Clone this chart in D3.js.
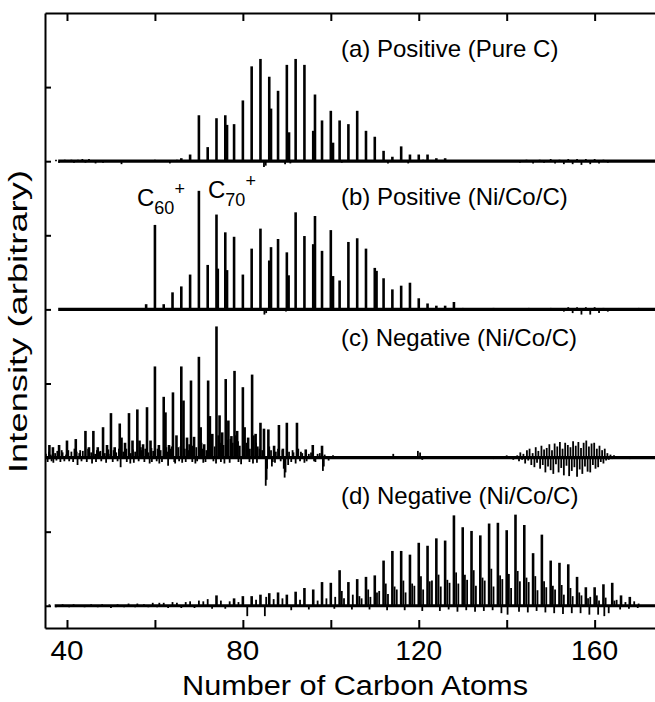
<!DOCTYPE html>
<html>
<head>
<meta charset="utf-8">
<script src="https://d3js.org/d3.v7.min.js"></script>
<style>
  body { margin: 0; background: #fff; }
  text { font-family: "Liberation Sans", Arial, sans-serif; fill: #000; }
</style>
</head>
<body>
<script>
// panel order: a, b, c, d  (vertical offset of each baseline in axis units)
const panelOffsets = [6, 4, 2, 0];
const panelLabels = ["(a) Positive (Pure C)", "(b) Positive (Ni/Co/C)", "(c) Negative (Ni/Co/C)", "(d) Negative (Ni/Co/C)"];
const traceStart = [38, 38, 35, 37.2];
const xTicks = [40, 60, 80, 100, 120, 140, 160];
const xLabels = [40, 80, 120, 160];
const yTicks = [0, 1, 2, 3, 4, 5, 6, 7];

// [carbon atoms, intensity]
const peaksA = [[66,0.04],[68,0.09],[70,0.62],[72,0.19],[74,0.58],[76,0.62],[78,0.50],[80,0.82],[82,1.28],[84,1.38],
  [86,1.14],[88,0.95],[90,1.30],[92,1.38],[94,1.30],[96.4,0.90],[98,0.55],[100,0.68],[102,0.55],[104,0.50],[106,0.68],
  [108,0.41],[110,0.33],[112,0.14],[114,0.06],[116,0.20],[118,0.09],[120,0.09],[122,0.09],[124,0.04],[126,0.04]];
const shouldersA = [[76.4,0.49],[86.4,0.71],[90.5,0.39],[96,0.41],[100.5,0.25]];
const noiseA = [[37.5,0.02],[38.2,-0.02],[39.5,0.02],[41,0.02],[41.6,-0.02],[42.5,0.02],[43.5,0.03],[44.2,-0.02],[45,0.03],
  [46.5,-0.03],[48.2,-0.02],[51,0.01],[52.4,-0.04],[58,0.01],[60,0.02],[63.4,-0.03],[65,0.02],[84.8,-0.08],[85.2,-0.06],
  [89.6,-0.04],[90.8,-0.03],[102.5,-0.02],[113,-0.03],[117.6,-0.03],[119,0.01],[121,0.02],[143,-0.02],[144.5,0.02],
  [146,-0.03],[147.5,0.02],[148.5,-0.02],[150,0.03],[151,-0.03],[152,0.02],[153,-0.04],[154,0.03],[155,-0.04],[156,0.03],
  [157,-0.05],[158,0.03],[159,-0.04],[160,0.03],[161,-0.03],[162,0.02],[163,-0.02]];

const peaksB = [[58,0.07],[60,1.14],[62,0.07],[64,0.23],[66,0.31],[68,0.47],[70,1.60],[72,0.60],[74,1.28],[76,1.04],[78,0.98],
  [80,0.47],[82,0.82],[84,1.09],[86,0.66],[88,0.95],[90,0.77],[92,1.31],[94,0.99],[96.4,1.26],[98,0.79],[100,1.07],
  [102,0.39],[104,0.91],[106,0.96],[108,0.82],[110,0.56],[112,0.42],[114,0.27],[116,0.32],[118,0.36],[120,0.15],
  [122,0.08],[124,0.05],[126,0.05],[128,0.10]];
const shouldersB = [[74.3,0.55],[76.4,0.53],[86.4,0.84],[90.4,0.46],[96,0.88],[100.5,0.45],[110.4,0.52]];
const noiseB = [[44,0.01],[50,0.01],[55,0.02],[84.9,-0.07],[85.3,-0.05],[89.8,-0.03],[96.8,-0.02],[130,0.02],[133,0.02],
  [137,0.02],[141,0.02],[145,0.02],[150,0.02],[153,-0.03],[154,0.03],[155,-0.05],[156,0.03],[157,-0.07],[158,0.03],
  [159,-0.07],[160,0.03],[161,-0.05],[162,0.02],[163,-0.03],[166,0.02],[170,0.02]];

const peaksC = [[36,0.17],[36.8,0.14],[38.2,0.17],[40,0.23],[42,0.25],[44.2,0.36],[45,0.14],[46,0.36],[47,0.14],[48.2,0.41],
  [49.1,0.17],[50,0.60],[50.85,0.14],[52,0.46],[52.4,0.27],[53.2,0.20],[54.1,0.60],[54.9,0.23],[56,0.65],[56.5,0.23],
  [57.3,0.18],[58.2,0.68],[59,0.23],[60,1.23],[60.9,0.17],[62,0.82],[62.4,0.61],[63.2,0.17],[64.1,0.88],[64.9,0.30],
  [66,1.23],[66.5,0.77],[67.3,0.27],[68.2,1.04],[68.9,0.28],[70,1.36],[70.4,0.41],[71.2,0.18],[72.1,1.04],[72.5,0.56],
  [73.05,0.32],[74,1.77],[74.7,0.57],[75.3,0.34],[76.1,1.06],[76.7,0.50],[77.4,0.29],[78.1,1.17],[78.7,0.36],[80,0.95],
  [80.4,0.41],[81.2,0.27],[82.1,1.12],[82.9,0.32],[84,0.47],[84.8,0.39],[85.8,0.38],[87.1,0.16],[88.2,0.44],[89.1,0.12],
  [90,0.47],[92.3,0.47],[94.3,0.11],[95.9,0.17],[98,0.16]];
const noiseC = [[35.2,0.05],[35.6,-0.06],[35.9,0.08],[36.3,0.04],[36.5,-0.05],[36.9,-0.07],[37.3,0.06],[37.6,-0.04],
  [37.8,0.09],[38.5,-0.06],[38.8,0.1],[39,0.07],[39.4,-0.05],[39.8,0.04],[40.3,0.1],[40.5,-0.05],[41,0.08],[41.4,-0.06],
  [41.7,0.12],[42.2,0.08],[42.4,-0.1],[42.8,0.06],[43,0.1],[43.3,-0.05],[43.6,0.09],[44.5,-0.06],[44.8,0.12],[45.5,0.07],
  [45.7,-0.08],[46.4,0.05],[46.6,-0.06],[46.8,0.1],[47.4,0.08],[47.6,0.09],[47.8,-0.05],[48.6,0.06],[48.9,-0.07],
  [49.4,0.11],[49.5,0.05],[50.4,-0.06],[50.6,0.1],[51.2,0.07],[51.5,-0.05],[51.8,0.12],[52.2,-0.13],[52.8,0.08],
  [53.5,0.12],[53.6,-0.06],[54.4,-0.08],[54.5,0.06],[55,0.11],[55.2,-0.07],[55.5,0.08],[56.3,-0.05],[56.8,0.14],
  [57,0.1],[57.6,-0.06],[57.8,0.12],[58.5,0.07],[58.8,-0.08],[59.2,0.13],[59.3,-0.06],[59.6,0.09],[60.4,-0.05],
  [60.6,0.12],[61,-0.08],[61.3,0.1],[61.6,-0.06],[62.6,0.14],[62.8,0.08],[63,-0.11],[63.5,0.12],[63.8,0.15],[64.4,-0.06],
  [64.6,-0.08],[65.3,0.14],[65.5,-0.05],[65.8,0.15],[66.2,-0.07],[66.8,0.12],[67,-0.06],[67.6,0.1],[67.8,0.18],
  [68.5,-0.06],[68.6,0.16],[69.2,-0.08],[69.4,0.14],[69.6,-0.05],[70.6,0.2],[70.8,0.12],[71,-0.07],[71.5,-0.06],
  [71.7,0.1],[72.3,0.22],[72.8,0.2],[73.3,-0.05],[73.6,0.15],[73.9,-0.08],[74.4,0.3],[74.9,0.2],[75,-0.06],[75.6,0.17],
  [75.8,-0.08],[76.4,0.24],[77,-0.07],[77.2,0.25],[77.7,0.2],[78.4,0.3],[78.9,0.22],[79,-0.06],[79.3,0.16],[79.6,-0.09],
  [80.2,0.28],[80.8,0.2],[81,0.18],[81.5,-0.06],[81.6,0.12],[82.3,-0.08],[82.5,0.3],[83,0.2],[83.2,-0.07],[83.4,0.15],
  [83.8,0.12],[84.4,0.1],[85.2,-0.38],[85.4,-0.3],[85.5,-0.15],[86,0.15],[86.4,0.1],[86.6,-0.12],[86.8,-0.06],
  [87.3,-0.07],[87.5,0.08],[88,0.12],[88.6,-0.05],[89,0.1],[89.3,-0.15],[89.5,-0.27],[89.7,-0.2],[90.3,-0.1],[90.5,0.08],
  [91,-0.06],[91.3,0.1],[91.5,0.07],[92,-0.08],[92.6,0.12],[93,-0.05],[93.2,0.08],[93.5,0.06],[94,-0.07],[94.5,-0.05],
  [95,0.05],[95.5,0.07],[96.2,-0.05],[96.5,-0.06],[97,0.05],[97.5,0.06],[98.2,-0.18],[98.4,-0.12],[98.6,0.04],
  [99.5,-0.04],[100.5,0.03],[104,0.02],[108,-0.02],[110,0.02],[114.2,0.05],[114.6,-0.02],[119.8,0.09],[120.3,0.07],
  [120.8,-0.03],[124,0.02],[128,-0.02],[131,0.02],[134,0.02],[137,-0.02],[140,0.03],[141.5,-0.03],
  [142.4,0.03],[142.8,-0.05],[143.1,0.07],[143.5,-0.03],[143.8,0.05],[144.2,-0.08],[144.6,0.1],[144.9,-0.04],[145.2,0.12],
  [145.6,-0.1],[145.9,0.06],[146.3,-0.13],[146.6,0.14],[146.9,-0.07],[147.2,0.09],[147.6,-0.15],[147.9,0.16],[148.2,-0.1],
  [148.5,0.11],[148.8,-0.2],[149.1,0.13],[149.4,-0.12],[149.7,0.18],[150,-0.17],[150.3,0.1],[150.6,-0.22],[150.9,0.19],
  [151.2,-0.09],[151.5,0.15],[151.8,-0.2],[152.1,0.21],[152.4,-0.14],[152.7,0.12],[153,-0.24],[153.3,0.2],[153.6,-0.11],
  [153.9,0.17],[154.2,-0.25],[154.5,0.14],[154.8,-0.18],[155.1,0.22],[155.4,-0.13],[155.7,0.16],[156,-0.26],[156.3,0.21],
  [156.6,-0.16],[156.9,0.13],[157.2,-0.22],[157.5,0.2],[157.8,-0.12],[158.1,0.23],[158.4,-0.19],[158.7,0.15],[159,-0.2],
  [159.3,0.19],[159.6,-0.1],[159.9,0.2],[160.2,-0.15],[160.5,0.12],[160.8,-0.13],[161.1,0.16],[161.4,-0.06],[161.7,0.1],
  [162,-0.08],[162.3,0.12],[162.6,-0.04],[162.9,0.06],[163.2,-0.03],[163.6,0.04],[164,-0.02],[164.4,0.03],
  [166,0.01],[168,-0.02],[170,0.02],[172,0.02]];

const peaksD = [[74,0.14],[78,0.10],[80,0.13],[82,0.13],[84,0.15],[86,0.17],[88,0.18],[90,0.15],[92,0.19],[94,0.24],[96,0.22],
  [98,0.32],[100,0.31],[102,0.48],[104,0.32],[106,0.36],[108,0.39],[110,0.41],[112,0.61],[114,0.74],[116,0.74],[118,0.69],
  [120,0.85],[122,0.81],[124,0.91],[126,0.88],[128,1.22],[130,1.06],[132,1.01],[134,0.95],[136,1.11],[138,1.12],[140,1.02],
  [142,1.23],[144,1.09],[146,0.71],[148,0.96],[150,0.61],[152,0.58],[154,0.56],[156,0.39],[158,0.25],[160,0.25],[162,0.29],
  [164,0.31],[166,0.14],[168,0.12]];
const noiseD = [[36,0.02],[37.5,-0.02],[39,0.02],[40.5,-0.02],[41.5,0.02],[43,0.01],[44,-0.02],[45.5,0.02],[47,-0.02],
  [48,0.02],[50,-0.03],[51.5,0.02],[53,-0.02],[54,0.03],[55.5,-0.02],[56,0.03],[57.5,0.02],[58.5,-0.02],[59.5,0.04],
  [60.5,-0.02],[61,0.04],[62,0.04],[63,-0.03],[64,0.05],[65,0.04],[66,-0.03],[67,0.05],[68,0.06],[69,-0.03],[70,0.07],
  [71,0.06],[72,0.09],[73,-0.04],[75,0.07],[76,-0.04],[77,0.06],[79,0.05],[81,-0.14],[83,0.08],[85,-0.14],[85.3,0.12],
  [87,0.09],[89,0.1],[91,-0.06],[93,0.08],[95,-0.05],[97,0.07],[99,0.1],
  [101,0.12],[102.5,0.2],[103,0.1],[105,0.15],[106.5,0.13],[107,0.1],[108.5,0.22],[109,0.12],[110.5,0.18],[111,0.2],
  [112.5,0.3],[113,0.16],[114.5,0.26],[115,0.22],[116.5,0.34],[117,0.18],[118.5,0.3],[119,0.27],[120.5,0.4],[121,0.22],
  [122.5,0.33],[123,0.34],[124.5,0.42],[125,0.26],[126.5,0.35],[127,0.31],[128.5,0.45],[129,0.3],[130.5,0.42],[131,0.35],
  [132.5,0.48],[133,0.27],[134.5,0.38],[135,0.34],[136.5,0.5],[137,0.26],[138.5,0.41],[139,0.36],[140.5,0.43],[141,0.24],
  [142.5,0.47],[143,0.33],[144.5,0.38],[145,0.32],[146.5,0.4],[147,0.21],[148.5,0.33],[149,0.25],[150.5,0.27],[151,0.22],
  [152.5,0.28],[153,0.15],[154.5,0.24],[155,0.13],[156.5,0.18],[157,0.14],[158.5,0.1],[159,0.12],[160.5,0.14],[161,0.07],
  [162.5,0.11],[164.5,0.07],[165,0.08],[167,0.05],[169,0.06],[170,0.03],
  [100.8,-0.04],[104.8,-0.05],[108.8,-0.05],[112.8,-0.06],[116.8,-0.06],[120.8,-0.07],[124.8,-0.07],[126.8,-0.05],
  [128.8,-0.08],[130.8,-0.06],[132.8,-0.08],[134.8,-0.07],[136.8,-0.06],[138.8,-0.1],[140.2,-0.12],[142.8,-0.08],
  [144.8,-0.09],[146.8,-0.07],[148.8,-0.09],[150.8,-0.1],[152.8,-0.11],[154.8,-0.1],[156.8,-0.1],[158.8,-0.12],
  [160.8,-0.12],[162.2,-0.14],[163.2,-0.1],[165.8,-0.05],[167.8,-0.04],[169.8,-0.03]];

const panels = [
  {peaks: peaksA.concat(shouldersA), noise: noiseA},
  {peaks: peaksB.concat(shouldersB), noise: noiseB},
  {peaks: peaksC, noise: noiseC},
  {peaks: peaksD, noise: noiseD}
];

const W = 655, H = 702;
const svg = d3.select("body").append("svg").attr("width", W).attr("height", H);

const x = d3.scaleLinear().domain([35, 174]).range([45, 656.2]);
const y = d3.scaleLinear().domain([-0.3, 8]).range([628, 13]);

svg.append("clipPath").attr("id", "clip").append("rect")
  .attr("x", 45).attr("y", 13).attr("width", W - 45).attr("height", 615);
const plot = svg.append("g").attr("clip-path", "url(#clip)");

panels.forEach((p, i) => {
  const off = panelOffsets[i];
  const g = plot.append("g");
  // baseline of the trace
  g.append("line")
    .attr("x1", x(traceStart[i])).attr("x2", x(174))
    .attr("y1", y(off)).attr("y2", y(off))
    .attr("stroke", "#000").attr("stroke-width", 3.2);
  g.selectAll("line.n").data(p.noise).enter().append("line")
    .attr("class", "n")
    .attr("x1", d => x(d[0])).attr("x2", d => x(d[0]))
    .attr("y1", y(off)).attr("y2", d => y(off + d[1]))
    .attr("stroke", "#000").attr("stroke-width", 1.8);
  g.selectAll("line.p").data(p.peaks).enter().append("line")
    .attr("class", "p")
    .attr("x1", d => x(d[0])).attr("x2", d => x(d[0]))
    .attr("y1", y(off)).attr("y2", d => y(off + d[1]))
    .attr("stroke", "#000").attr("stroke-width", 2.6);
});

// axes (ticks inward)
function styleAxis(g) {
  g.selectAll("path").attr("stroke", "#000").attr("stroke-width", 2);
  g.selectAll("line").attr("stroke", "#000").attr("stroke-width", 2);
}
svg.append("g").attr("transform", "translate(0,13)")
  .call(d3.axisBottom(x).tickValues(xTicks).tickSize(8).tickSizeOuter(0).tickFormat(""))
  .call(styleAxis);
svg.append("g").attr("transform", "translate(0,628)")
  .call(d3.axisTop(x).tickValues(xTicks).tickSize(8).tickSizeOuter(0).tickFormat(""))
  .call(styleAxis);
svg.append("g").attr("transform", "translate(45,0)")
  .call(d3.axisRight(y).tickValues(yTicks).tickSize(6).tickSizeOuter(0).tickFormat(""))
  .call(styleAxis);

// tick labels
svg.selectAll("text.xl").data(xLabels).enter().append("text")
  .attr("class", "xl")
  .attr("x", d => x(d)).attr("y", 660)
  .attr("text-anchor", "middle")
  .attr("font-size", 28)
  .attr("textLength", d => d >= 100 ? 47 : 33)
  .attr("lengthAdjust", "spacingAndGlyphs")
  .text(d => d);

svg.append("text")
  .attr("x", 355).attr("y", 695)
  .attr("text-anchor", "middle")
  .attr("font-size", 27)
  .attr("textLength", 346).attr("lengthAdjust", "spacingAndGlyphs")
  .text("Number of Carbon Atoms");

svg.append("text")
  .attr("transform", "translate(27,321.5) rotate(-90)")
  .attr("text-anchor", "middle")
  .attr("font-size", 26)
  .attr("textLength", 303).attr("lengthAdjust", "spacingAndGlyphs")
  .text("Intensity (arbitrary)");

// panel labels
const labelBase = [57, 205, 346, 504];
panelLabels.forEach((t, i) => {
  svg.append("text")
    .attr("x", 341).attr("y", labelBase[i])
    .attr("font-size", 24)
    .text(t);
});

// C60+ and C70+ annotations
function cluster(xp, yp, n) {
  const t = svg.append("text").attr("x", xp).attr("y", yp).attr("font-size", 24);
  t.append("tspan").text("C");
  t.append("tspan").attr("font-size", 18).attr("dy", 8).text(n);
  t.append("tspan").attr("font-size", 18).attr("dy", -19).text("+");
}
cluster(137, 206, "60");
cluster(208, 198, "70");
</script>
</body>
</html>
